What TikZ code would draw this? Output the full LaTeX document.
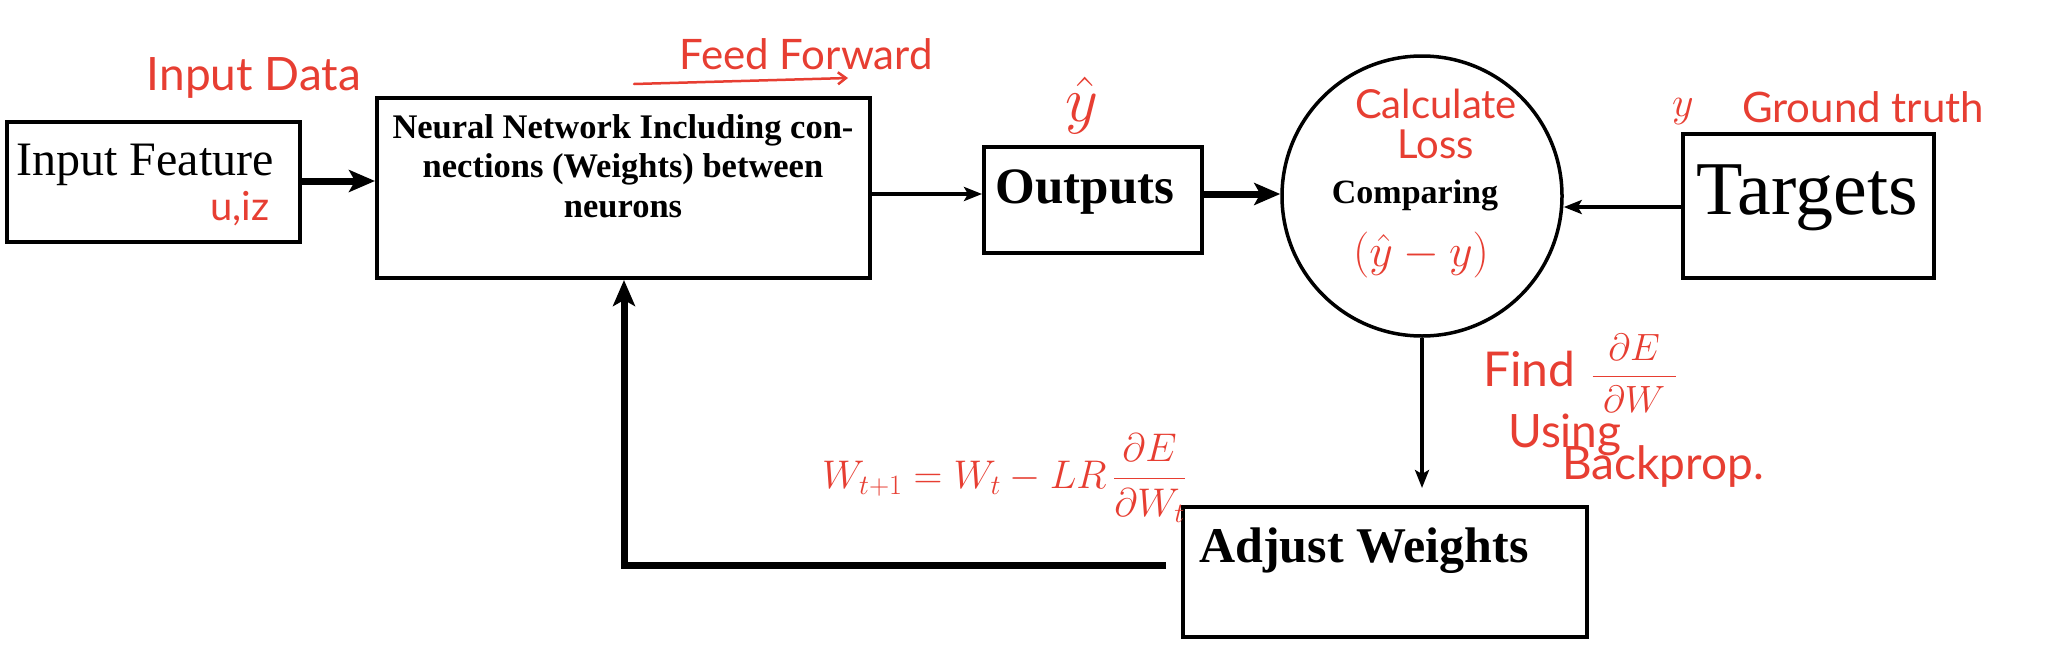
\RequirePackage{fix-cm}
\documentclass[tikz,border=0pt]{standalone}
\usepackage{amsmath}
\usepackage{fontspec}
\setmainfont{Liberation Serif}
\newfontfamily\hand{Lato}
\usetikzlibrary{arrows.meta}
\definecolor{ink}{RGB}{231,62,50}
\tikzset{
  box/.style={draw=black, line width=4pt, inner sep=0pt, rectangle},
  lbl/.style={anchor=base, inner sep=0pt},
  note/.style={text=ink, inner sep=0pt},
  heavy/.style={line width=7pt, -{Stealth[length=26pt,width=22pt,inset=6pt]}},
  light/.style={line width=4.5pt, -{Stealth[length=18pt,width=14pt,inset=4pt]}},
}
\newcommand{\fs}[1]{\fontsize{#1}{#1}\selectfont}
\begin{document}
\begin{tikzpicture}[x=1pt,y=-1pt]
\useasboundingbox[fill=white] (0,0) rectangle (2048,651);

% boxes
\node[box, minimum width=293pt, minimum height=120pt] (inp) at (153.5,182) {};
\node[box, minimum width=493pt, minimum height=180pt] (nn) at (623.5,188) {};
\node[box, minimum width=218pt, minimum height=106pt] (out) at (1093,200) {};
\node[draw=black, line width=3.5pt, circle, minimum size=280pt, inner sep=0pt] (cmp) at (1422,196) {};
\node[box, minimum width=251pt, minimum height=144pt] (tgt) at (1808.5,206) {};
\node[box, minimum width=404pt, minimum height=130pt] (adj) at (1385,572) {};

% texts
\node[lbl, font=\fs{48}] (tinp) at (145,175) {Input Feature};
\node[lbl, font=\bfseries\fontsize{34.5}{39.5}\selectfont, align=center] (tnn) at (623,217)
  {Neural Network Including con-\\nections (Weights) between\\neurons};
\node[lbl, font=\bfseries\fs{51}] (tout) at (1085,203) {Outputs};
\node[lbl, font=\bfseries\fs{34}] (tcmp) at (1415,203) {Comparing};
\node[lbl, font=\fs{76}] (ttgt) at (1807,214) {Targets};
\node[lbl, font=\bfseries\fs{50}] (tadj) at (1364,562) {Adjust Weights};

% connectors
\coordinate (corner) at (624,565);
\draw[heavy] (inp.east |- 0,181) -- (nn.west |- 0,181);
\draw[light, line width=4pt] (nn.east |- 0,194) -- (out.west |- 0,194);
\draw[heavy] (out.east |- 0,194) -- (cmp.west |- 0,194);
\draw[light] (tgt.west |- 0,207) -- (cmp.east |- 0,207);
\draw[light, shorten >=17pt] (cmp.south) -- (cmp.south |- adj.north);
\draw[heavy, shorten <=15pt] (adj.west |- corner) -- (corner) -- (nn.south -| corner);

% handwritten annotations
\node[note, font=\hand\fs{46}] (n1) at (254,78) {Input Data};
\node[note, font=\hand\fs{42}] (n2) at (806,54) {Feed Forward};
\coordinate (ffa) at (634,84);
\coordinate (ffb) at (848,78);
\draw[ink, line width=2.5pt, line cap=round, -{Straight Barb[length=8pt,width=12pt]}] (ffa) -- (ffb);
\node[note, font=\fs{64}] (n3) at (1082,105) {$\hat{y}$};
\node[note, font=\hand\fs{40}, align=center] (n4) at (1436,124) {Calculate\\Loss};
\node[note, font=\fs{46}] (n5) at (1421,255) {$(\hat{y}-y)$};
\node[note, font=\fs{42}] (n6) at (1683,112) {$y$};
\node[note, font=\hand\fs{40}] (n8) at (240,209) {u,iz};
\node[note, font=\hand\fs{42}] (n7) at (1863,107) {Ground truth};
\node[note, font=\fs{40}] (n9) at (1004,478) {$W_{t+1}=W_t-LR\,\dfrac{\partial E}{\partial W_t}$};
\node[note, font=\hand\fs{48}, anchor=base west] (n10) at (1483,386) {Find\hspace{16pt}\fs{38}$\dfrac{\;\partial E\;}{\;\partial W\;}$};
\node[note, font=\hand\fs{46}, anchor=base west] (n11) at (1508,447) {Using};
\node[note, font=\hand\fs{46}, anchor=base west] (n12) at (1562,479) {Backprop.};
\end{tikzpicture}
\end{document}
